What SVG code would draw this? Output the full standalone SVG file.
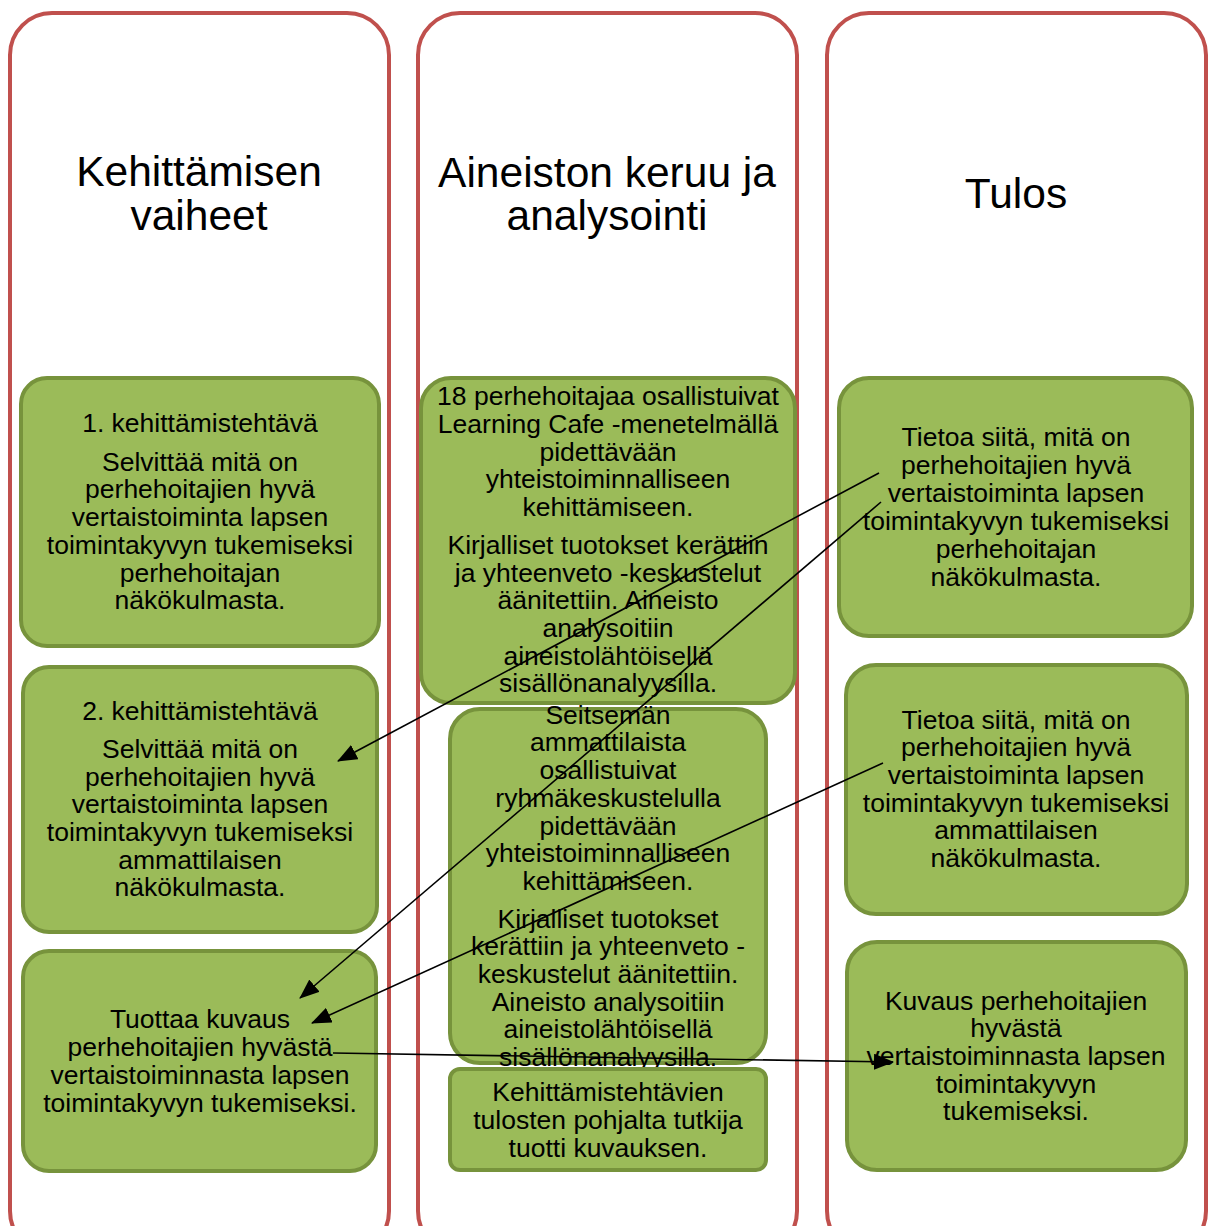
<svg xmlns="http://www.w3.org/2000/svg" width="1214" height="1226" viewBox="0 0 1214 1226">
<style>
.col{fill:#FFFFFF;stroke:#C0504D;stroke-width:4}
.box{fill:#9BBB59;stroke:#77933C;stroke-width:4}
.hd{font-family:"Liberation Sans",Arial,sans-serif;font-size:42.5px;fill:#000;text-anchor:middle}
.tx{font-family:"Liberation Sans",Arial,sans-serif;font-size:26.5px;fill:#000;text-anchor:middle}
.con{fill:none;stroke:#000;stroke-width:1.6}
</style>
<defs>
<marker id="ah" markerWidth="12" markerHeight="10" refX="11" refY="5" orient="auto" markerUnits="userSpaceOnUse" viewBox="0 0 12 10">
<path d="M0,0 L12,5 L0,10 Z" fill="#000"/>
</marker>
<marker id="ah2" markerWidth="20" markerHeight="16" refX="19" refY="8" orient="auto" markerUnits="userSpaceOnUse" viewBox="0 0 20 16">
<path d="M0,0 L20,8 L0,16 Z" fill="#000"/>
</marker>
</defs>
<g id="col-vaiheet">
<rect class="col" x="10" y="13" width="379" height="1240" rx="42"/>
<text class="hd" x="199" y="186">Kehittämisen</text>
<text class="hd" x="199" y="230">vaiheet</text>
</g>
<g id="col-aineisto">
<rect class="col" x="418" y="13" width="379" height="1240" rx="42"/>
<text class="hd" x="607" y="187">Aineiston keruu ja</text>
<text class="hd" x="607" y="230">analysointi</text>
</g>
<g id="col-tulos">
<rect class="col" x="827" y="13" width="379" height="1240" rx="42"/>
<text class="hd" x="1016" y="208">Tulos</text>
</g>
<g id="vaihe1">
<rect class="box" x="21" y="378" width="358" height="268" rx="26"/>
<text class="tx" x="200" y="432">1. kehittämistehtävä</text>
<text class="tx" x="200" y="471">Selvittää mitä on</text>
<text class="tx" x="200" y="498">perhehoitajien hyvä</text>
<text class="tx" x="200" y="526">vertaistoiminta lapsen</text>
<text class="tx" x="200" y="554">toimintakyvyn tukemiseksi</text>
<text class="tx" x="200" y="582">perhehoitajan</text>
<text class="tx" x="200" y="609">näkökulmasta.</text>
</g>
<g id="vaihe2">
<rect class="box" x="23" y="667" width="354" height="265" rx="26"/>
<text class="tx" x="200" y="720">2. kehittämistehtävä</text>
<text class="tx" x="200" y="758">Selvittää mitä on</text>
<text class="tx" x="200" y="786">perhehoitajien hyvä</text>
<text class="tx" x="200" y="813">vertaistoiminta lapsen</text>
<text class="tx" x="200" y="841">toimintakyvyn tukemiseksi</text>
<text class="tx" x="200" y="869">ammattilaisen</text>
<text class="tx" x="200" y="896">näkökulmasta.</text>
</g>
<g id="vaihe3">
<rect class="box" x="23" y="951" width="353" height="220" rx="26"/>
<text class="tx" x="200" y="1028">Tuottaa kuvaus</text>
<text class="tx" x="200" y="1056">perhehoitajien hyvästä</text>
<text class="tx" x="200" y="1084">vertaistoiminnasta lapsen</text>
<text class="tx" x="200" y="1112">toimintakyvyn tukemiseksi.</text>
</g>
<g id="aineisto1">
<rect class="box" x="421" y="378" width="374" height="325" rx="30"/>
<text class="tx" x="608" y="405">18 perhehoitajaa osallistuivat</text>
<text class="tx" x="608" y="433">Learning Cafe -menetelmällä</text>
<text class="tx" x="608" y="461">pidettävään</text>
<text class="tx" x="608" y="488">yhteistoiminnalliseen</text>
<text class="tx" x="608" y="516">kehittämiseen.</text>
<text class="tx" x="608" y="554">Kirjalliset tuotokset kerättiin</text>
<text class="tx" x="608" y="582">ja yhteenveto -keskustelut</text>
<text class="tx" x="608" y="609">äänitettiin. Aineisto</text>
<text class="tx" x="608" y="637">analysoitiin</text>
<text class="tx" x="608" y="665">aineistolähtöisellä</text>
<text class="tx" x="608" y="692">sisällönanalyysilla.</text>
</g>
<g id="aineisto2">
<rect class="box" x="450" y="709" width="316" height="354" rx="30"/>
<text class="tx" x="608" y="724">Seitsemän</text>
<text class="tx" x="608" y="751">ammattilaista</text>
<text class="tx" x="608" y="779">osallistuivat</text>
<text class="tx" x="608" y="807">ryhmäkeskustelulla</text>
<text class="tx" x="608" y="835">pidettävään</text>
<text class="tx" x="608" y="862">yhteistoiminnalliseen</text>
<text class="tx" x="608" y="890">kehittämiseen.</text>
<text class="tx" x="608" y="928">Kirjalliset tuotokset</text>
<text class="tx" x="608" y="955">kerättiin ja yhteenveto -</text>
<text class="tx" x="608" y="983">keskustelut äänitettiin.</text>
<text class="tx" x="608" y="1011">Aineisto analysoitiin</text>
<text class="tx" x="608" y="1038">aineistolähtöisellä</text>
<text class="tx" x="608" y="1066">sisällönanalyysilla.</text>
</g>
<g id="aineisto3">
<rect class="box" x="450" y="1069" width="316" height="101" rx="10"/>
<text class="tx" x="608" y="1101">Kehittämistehtävien</text>
<text class="tx" x="608" y="1129">tulosten pohjalta tutkija</text>
<text class="tx" x="608" y="1157">tuotti kuvauksen.</text>
</g>
<g id="tulos1">
<rect class="box" x="839" y="378" width="353" height="258" rx="30"/>
<text class="tx" x="1016" y="446">Tietoa siitä, mitä on</text>
<text class="tx" x="1016" y="474">perhehoitajien hyvä</text>
<text class="tx" x="1016" y="502">vertaistoiminta lapsen</text>
<text class="tx" x="1016" y="530">toimintakyvyn tukemiseksi</text>
<text class="tx" x="1016" y="558">perhehoitajan</text>
<text class="tx" x="1016" y="586">näkökulmasta.</text>
</g>
<g id="tulos2">
<rect class="box" x="846" y="665" width="341" height="249" rx="30"/>
<text class="tx" x="1016" y="729">Tietoa siitä, mitä on</text>
<text class="tx" x="1016" y="756">perhehoitajien hyvä</text>
<text class="tx" x="1016" y="784">vertaistoiminta lapsen</text>
<text class="tx" x="1016" y="812">toimintakyvyn tukemiseksi</text>
<text class="tx" x="1016" y="839">ammattilaisen</text>
<text class="tx" x="1016" y="867">näkökulmasta.</text>
</g>
<g id="tulos3">
<rect class="box" x="847" y="942" width="339" height="228" rx="30"/>
<text class="tx" x="1016" y="1010">Kuvaus perhehoitajien</text>
<text class="tx" x="1016" y="1037">hyvästä</text>
<text class="tx" x="1016" y="1065">vertaistoiminnasta lapsen</text>
<text class="tx" x="1016" y="1093">toimintakyvyn</text>
<text class="tx" x="1016" y="1120">tukemiseksi.</text>
</g>
<g id="connectors">
<line class="con" x1="879" y1="473" x2="338" y2="761" marker-end="url(#ah2)"/>
<line class="con" x1="881" y1="502" x2="300" y2="998" marker-end="url(#ah2)"/>
<line class="con" x1="883" y1="763" x2="312" y2="1023" marker-end="url(#ah2)"/>
<line class="con" x1="333" y1="1053" x2="893" y2="1062" marker-end="url(#ah2)"/>
</g>
</svg>
